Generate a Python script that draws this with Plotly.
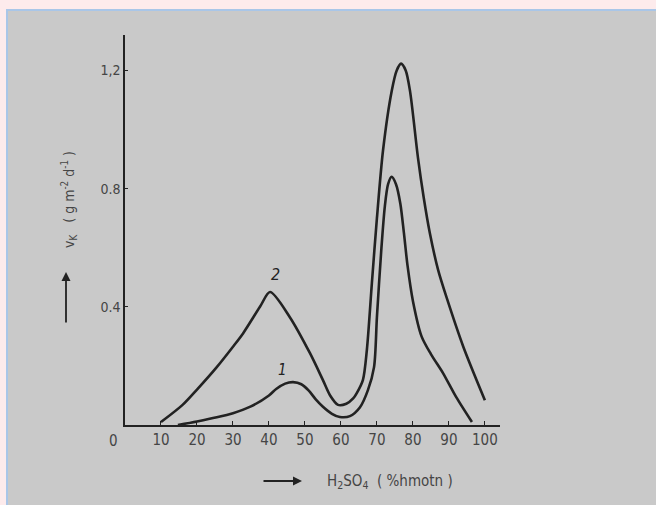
import plotly.graph_objects as go

# ---- data ----
x_curve1 = [14.7, 20, 25.5, 30, 35, 40, 42, 44.5, 46.7, 49, 51, 53, 55, 57.5, 59.7, 62.5, 65.3, 67.5,
            69.2, 70, 71.2, 72.2, 73.1, 74.1, 75.3, 76.5, 77.5, 78.5, 80, 82.4, 85, 88.4, 92, 96.4]
y_curve1 = [0.0, 0.012, 0.026, 0.04, 0.063, 0.1, 0.122, 0.14, 0.145, 0.138, 0.117, 0.087, 0.062, 0.038,
            0.027, 0.03, 0.06, 0.118, 0.196, 0.365, 0.59, 0.74, 0.815, 0.84, 0.815, 0.75, 0.65, 0.54,
            0.42, 0.30, 0.24, 0.175, 0.095, 0.01]

x_curve2 = [10, 16, 20, 25.5, 30, 32.8, 37.5, 40.3, 45.8, 51.4, 55, 57, 59.2, 61.5, 63.4, 64.4, 66.1,
            67.2, 68.6, 70, 71.7, 74.1, 75.5, 76.7, 78, 79.2, 81.4, 83, 84.7, 87, 89.4, 94, 100]
y_curve2 = [0.01, 0.068, 0.12, 0.196, 0.265, 0.31, 0.40, 0.45, 0.365, 0.243, 0.152, 0.10, 0.068,
            0.072, 0.09, 0.108, 0.152, 0.253, 0.48, 0.70, 0.93, 1.13, 1.20, 1.223, 1.20, 1.13, 0.905,
            0.77, 0.65, 0.525, 0.43, 0.265, 0.084]

x_ticks = [0, 10, 20, 30, 40, 50, 60, 70, 80, 90, 100]
x_tick_labels = ["", "10", "20", "30", "40", "50", "60", "70", "80", "90", "100"]
y_ticks = [0.4, 0.8, 1.2]
y_tick_labels = ["0.4", "0.8", "1,2"]

# ---- layout geometry (pixels) ----
W, H = 656, 505
L, R, T, B = 125, 156, 35, 80
PW, PH = W - L - R, H - T - B


def px(xp):
    return (xp - L) / PW


def py(yp):
    return (H - B - yp) / PH


INK = "#222222"
TXT = "#454545"
GRAY = "#c9c9c9"
FONT = "DejaVu Sans Condensed, Liberation Sans Narrow, Arial Narrow, sans-serif"

fig = go.Figure()
for xs, ys in [(x_curve1, y_curve1), (x_curve2, y_curve2)]:
    fig.add_trace(go.Scatter(x=xs, y=ys, mode="lines",
                             line=dict(color=INK, width=2.6, shape="spline", smoothing=0.8),
                             showlegend=False, hoverinfo="skip"))

fig.update_layout(
    width=W, height=H,
    margin=dict(l=L, r=R, t=T, b=B, pad=0),
    paper_bgcolor="#fdebec",
    plot_bgcolor="rgba(0,0,0,0)",
    font=dict(family=FONT, size=12, color=TXT),
    xaxis=dict(range=[0, 104.2], tickvals=x_ticks, ticktext=x_tick_labels,
               showgrid=False, zeroline=False, showline=True, linecolor=INK, linewidth=1.5,
               ticks="inside", ticklen=4, tickcolor=INK, tickwidth=1,
               tickfont=dict(family=FONT, size=15, color=TXT)),
    yaxis=dict(range=[0, 1.32], tickvals=y_ticks, ticktext=y_tick_labels,
               showgrid=False, zeroline=False, showline=True, linecolor=INK, linewidth=1.5,
               ticks="inside", ticklen=3, tickcolor=INK, tickwidth=1,
               tickfont=dict(family=FONT, size=14, color=TXT)),
    shapes=[dict(type="rect", xref="paper", yref="paper", layer="below",
                 x0=px(7), x1=px(W + 5), y0=py(H + 5), y1=py(10),
                 fillcolor=GRAY, line=dict(color="#a9c6e8", width=2))],
)

C = dict(xanchor="center", yanchor="middle")
ann = []
# zero label of the x axis (sits left of the axis corner)
ann.append(dict(xref="paper", yref="paper", x=px(113), y=py(441), text="0", showarrow=False,
                font=dict(family=FONT, size=15, color=TXT), **C))
# curve labels
ann.append(dict(x=41.7, y=0.51, text="<i>2</i>", showarrow=False, font=dict(size=16, color=INK), **C))
ann.append(dict(x=43.9, y=0.185, text="<i>1</i>", showarrow=False, font=dict(size=15, color=INK), **C))
# x title
ann.append(dict(xref="paper", yref="paper", x=px(390), y=py(482),
                text="H<sub>2</sub>SO<sub>4</sub>  ( %hmotn )", showarrow=False,
                font=dict(family=FONT, size=15, color=TXT), **C))
ann.append(dict(xref="paper", yref="paper", x=px(302), y=py(481), ax=-40, ay=0,
                axref="pixel", ayref="pixel", text="", showarrow=True,
                arrowhead=2, arrowsize=1, arrowwidth=1.8, arrowcolor=INK))
# y title
ann.append(dict(xref="paper", yref="paper", x=px(69), y=py(200), textangle=-90,
                text="v<sub>K</sub>   ( g m<sup>-2</sup> d<sup>-1</sup> )", showarrow=False,
                font=dict(family=FONT, size=14, color=TXT), **C))
ann.append(dict(xref="paper", yref="paper", x=px(66), y=py(272), ax=0, ay=52,
                axref="pixel", ayref="pixel", text="", showarrow=True,
                arrowhead=2, arrowsize=1, arrowwidth=1.8, arrowcolor=INK))
fig.update_layout(annotations=ann)

fig.write_html("out.html", config={"displayModeBar": False},
               post_script="document.body.style.margin='0';")
